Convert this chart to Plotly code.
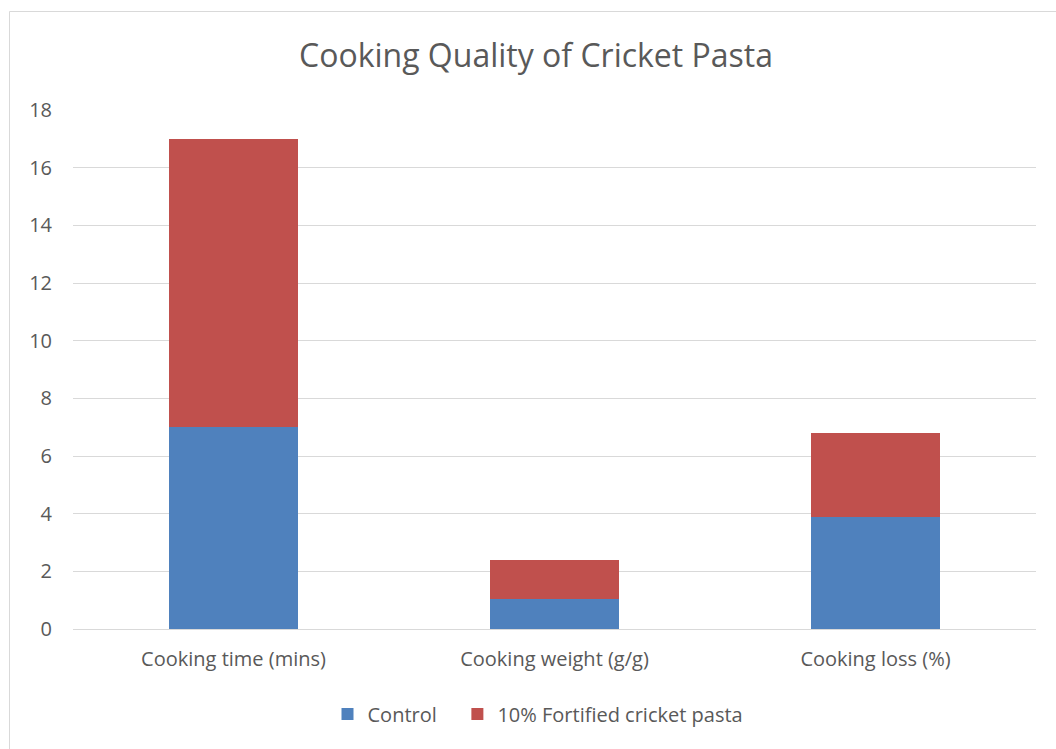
import plotly.graph_objects as go

categories = ["Cooking time (mins)", "Cooking weight (g/g)", "Cooking loss (%)"]
control = [7.0, 1.03, 3.88]
fortified = [10.0, 1.37, 2.92]
series_names = ["Control", "10% Fortified cricket pasta"]
tick_vals = [0, 2, 4, 6, 8, 10, 12, 14, 16, 18]

W, H = 1056, 749
L, R, T, B = 73, 20, 110, 120
pw, ph = W - L - R, H - T - B

font = "Open Sans"
gray = "#595959"

fig = go.Figure()
fig.add_trace(go.Bar(name=series_names[0] + "\u00a0\u00a0\u00a0", x=categories, y=control,
                     marker=dict(color="#4F81BD", line=dict(width=0))))
fig.add_trace(go.Bar(name=series_names[1], x=categories, y=fortified,
                     marker=dict(color="#C0504D", line=dict(width=0))))

def px_x(px):
    return (px - L) / pw

def px_y(py):
    return (H - B - py) / ph

fig.update_layout(
    barmode="stack",
    bargap=0.6,
    width=W, height=H,
    margin=dict(l=L, r=R, t=T, b=B),
    paper_bgcolor="white", plot_bgcolor="white",
    font=dict(family=font, color=gray, size=20),
    title=dict(text="Cooking Quality of Cricket Pasta", x=536 / W, xanchor="center",
               y=1 - 56 / H, yanchor="middle", xref="container", yref="container",
               font=dict(family=font, size=32, color=gray)),
    xaxis=dict(showgrid=False, showline=True, linecolor="#D9D9D9", linewidth=1,
               ticks="", tickfont=dict(size=20, color=gray), ticklabelstandoff=12),
    yaxis=dict(range=[0, 18], tickvals=tick_vals, showgrid=True, gridcolor="#D9D9D9",
               gridwidth=1, zeroline=False, showline=False, ticks="",
               ticklen=0, tickfont=dict(size=20, color=gray), ticklabelstandoff=20),
    showlegend=True,
    legend=dict(orientation="h", x=px_x(538), xanchor="center", y=px_y(714), yanchor="middle",
                font=dict(size=20, color=gray), traceorder="normal", itemwidth=30),
    shapes=[dict(type="rect", xref="paper", yref="paper",
                 x0=px_x(9.5), x1=px_x(1070), y0=px_y(760), y1=px_y(11.5),
                 line=dict(color="#D9D9D9", width=1), fillcolor="rgba(0,0,0,0)", layer="below")],
)

fig.write_html("out.html")
